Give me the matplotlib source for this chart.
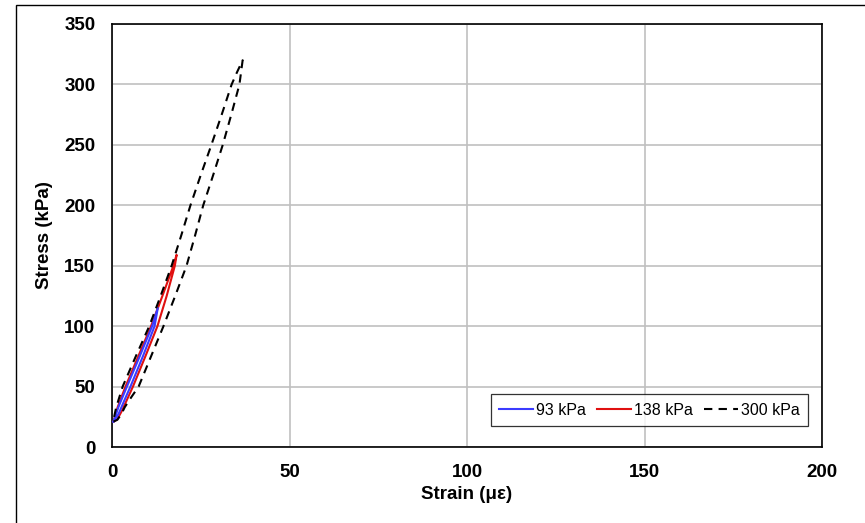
import matplotlib

matplotlib.use("Agg")
import matplotlib.pyplot as plt
from matplotlib.patches import Rectangle

plt.rcParams["font.family"] = ["Liberation Sans", "DejaVu Sans"]

# =====================================================================
# Data (strain in microstrain, stress in kPa)
# each loop: loading branch up to the peak, then unloading branch back
# =====================================================================
STRAIN_93 = [0.4, 1.8, 3.4, 5.2, 8.7, 12.0, 12.9,
             11.3, 7.8, 4.2, 1.8, 0.4]
STRESS_93 = [21, 27, 38, 50, 75, 100, 115,
             100, 75, 50, 33, 21]

STRAIN_138 = [0.4, 1.5, 2.8, 4.2, 5.9, 9.4, 12.8, 15.4, 17.7, 18.2,
              17.3, 14.2, 11.0, 7.4, 3.8, 1.6, 0.4]
STRESS_138 = [21, 23, 30, 39, 50, 75, 100, 125, 150, 159,
              150, 125, 100, 75, 50, 33, 21]

STRAIN_300 = [0.4, 1.5, 2.6, 3.6, 5.5, 7.5, 11.0, 14.5, 17.8, 21.0, 23.4,
              25.7, 28.5, 31.2, 33.6, 35.9, 36.8,
              35.2, 33.7, 30.9, 28.0, 25.0, 22.1, 19.5, 16.8, 13.7, 10.5,
              6.7, 3.0, 1.2, 0.6, 0.4]
STRESS_300 = [21, 22.5, 27, 33, 41.5, 50, 75, 100, 125, 150, 175,
              200, 225, 250, 275, 300, 320,
              310, 300, 275, 250, 225, 200, 175, 150, 125, 100,
              75, 50, 33, 25, 21]

X_TICKS = [0, 50, 100, 150, 200]
Y_TICKS = [0, 50, 100, 150, 200, 250, 300, 350]

fig = plt.figure(figsize=(8.65, 5.23), dpi=100)
ax = fig.add_axes([112 / 865, 76 / 523, 710 / 865, 423 / 523])

ax.plot(STRAIN_93, STRESS_93, color="#3b3bff", lw=1.5, label="93 kPa", zorder=4)
ax.plot(STRAIN_138, STRESS_138, color="#e01010", lw=1.5, label="138 kPa", zorder=3)
ax.plot(STRAIN_300, STRESS_300, color="black", lw=1.5, ls=(0, (4, 3)),
        label="300 kPa", zorder=5)

ax.set_xlim(0, 200)
ax.set_ylim(0, 350)
ax.set_xticks(X_TICKS)
ax.set_yticks(Y_TICKS)
ax.grid(True, color="#c0c0c0", lw=1.2)
ax.set_axisbelow(True)
ax.tick_params(length=0, pad=12, labelsize=13.5)
for lab in ax.get_xticklabels() + ax.get_yticklabels():
    lab.set_fontweight("bold")
for sp in ax.spines.values():
    sp.set_linewidth(1.2)
    sp.set_color("black")

ax.set_xlabel("Strain (\u03bc\u03b5)", fontsize=13.5, fontweight="bold", labelpad=4)
ax.set_ylabel("Stress (kPa)", fontsize=13.5, fontweight="bold", labelpad=8)

leg = ax.legend(loc="lower right", ncol=3, fontsize=11.5, frameon=True,
                fancybox=False, edgecolor="black", handlelength=2.1,
                handletextpad=0.2, columnspacing=0.7,
                bbox_to_anchor=(0.992, 0.030), borderpad=0.55)
leg.get_frame().set_linewidth(0.9)

# outer chart-area border, cut off at the right and bottom edges
fig.patches.append(Rectangle((16 / 865, -0.1), 1.2, 1.1 - 5 / 523,
                             transform=fig.transFigure, fill=False,
                             edgecolor="black", lw=1.0))

fig.savefig("out.png", dpi=100)
